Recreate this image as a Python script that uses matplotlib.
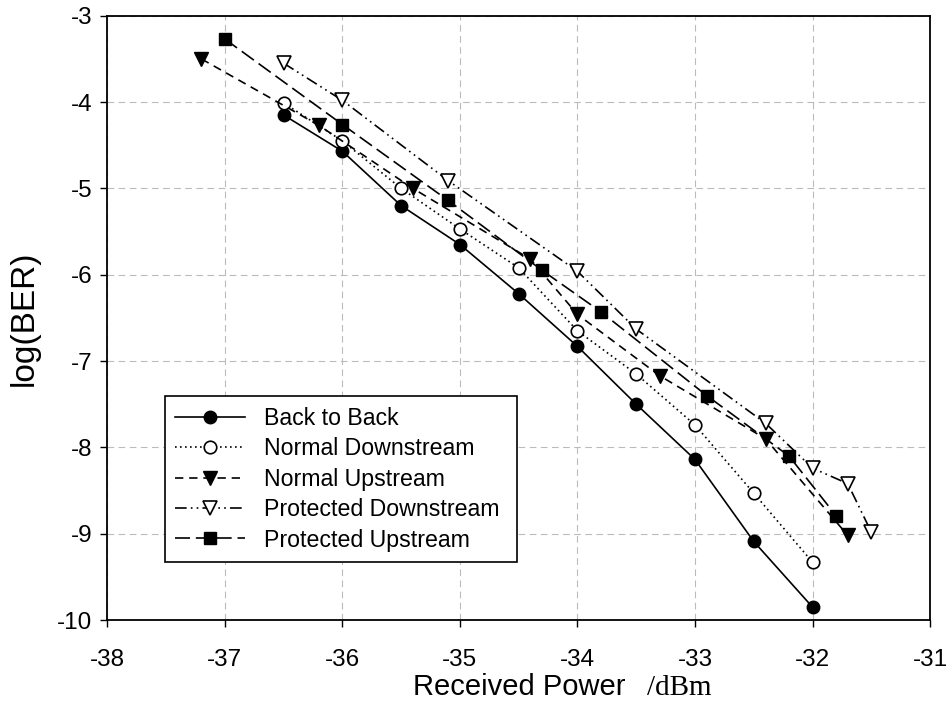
import matplotlib
matplotlib.use("Agg")
import matplotlib.pyplot as plt

plt.rcParams['font.family'] = ['Liberation Sans', 'DejaVu Sans']

# Data
b2b_x = [-36.5, -36.0, -35.5, -35.0, -34.5, -34.0, -33.5, -33.0, -32.5, -32.0]
b2b_y = [-4.15, -4.57, -5.20, -5.65, -6.22, -6.83, -7.50, -8.14, -9.09, -9.85]

nd_x = [-36.5, -36.0, -35.5, -35.0, -34.5, -34.0, -33.5, -33.0, -32.5, -32.0]
nd_y = [-4.01, -4.45, -5.00, -5.47, -5.92, -6.65, -7.15, -7.74, -8.53, -9.33]

nu_x = [-37.2, -36.2, -35.4, -34.4, -34.0, -33.3, -32.4, -31.7]
nu_y = [-3.50, -4.27, -5.00, -5.82, -6.46, -7.17, -7.90, -9.02]

pd_x = [-36.5, -36.0, -35.1, -34.0, -33.5, -32.4, -32.0, -31.7, -31.5]
pd_y = [-3.55, -3.98, -4.91, -5.96, -6.63, -7.72, -8.24, -8.42, -8.98]

pu_x = [-37.0, -36.0, -35.1, -34.3, -33.8, -32.9, -32.2, -31.8]
pu_y = [-3.27, -4.26, -5.14, -5.95, -6.43, -7.40, -8.10, -8.79]

labels = ["Back to Back", "Normal Downstream", "Normal Upstream",
          "Protected Downstream", "Protected Upstream"]
x_ticks = [-38, -37, -36, -35, -34, -33, -32, -31]
y_ticks = [-10, -9, -8, -7, -6, -5, -4, -3]

fig = plt.figure(figsize=(9.5, 7.16), dpi=100)
ax = fig.add_axes([0.113, 0.134, 0.866, 0.844])

ms = 9
ax.plot(b2b_x, b2b_y, color='black', lw=1.2, ls='-', marker='o', ms=ms,
        mfc='black', mec='black', label=labels[0], zorder=3)
ax.plot(nd_x, nd_y, color='black', lw=1.2, ls=(0, (1, 2)), marker='o', ms=ms,
        mfc='white', mec='black', mew=1.2, label=labels[1], zorder=3)
ax.plot(nu_x, nu_y, color='black', lw=1.2, ls=(0, (5, 3.5)), marker='v', ms=ms + 1,
        mfc='black', mec='black', label=labels[2], zorder=3)
ax.plot(pd_x, pd_y, color='black', lw=1.2, ls=(0, (7, 2.5, 1, 2.5, 1, 2.5)), marker='v',
        ms=ms + 1, mfc='white', mec='black', mew=1.2, label=labels[3], zorder=3)
ax.plot(pu_x, pu_y, color='black', lw=1.2, ls=(0, (9, 3.5)), marker='s', ms=ms - 0.5,
        mfc='black', mec='black', label=labels[4], zorder=3)

ax.set_xlim(-38, -31)
ax.set_ylim(-10, -3)
ax.set_xticks(x_ticks)
ax.set_yticks(y_ticks)
ax.set_xticklabels([str(t) for t in x_ticks])
ax.set_yticklabels([str(t) for t in y_ticks])
ax.tick_params(axis='both', direction='out', length=5, width=1.0, labelsize=17.5,
               colors='black')
ax.tick_params(axis='x', pad=16)
ax.tick_params(axis='y', pad=6)
ax.grid(True, color='#bbbbbb', ls=(0, (6, 4)), lw=0.8)
for s in ax.spines.values():
    s.set_linewidth(1.3)

ax.set_ylabel("log(BER)", fontsize=24, labelpad=12)

# x label: sans part plus serif unit
fig.text(0.658, 0.029, "Received Power", fontsize=21, ha='right', va='baseline')
fig.text(0.681, 0.029, "/dBm", fontsize=21, ha='left', va='baseline',
         family=['Liberation Serif', 'DejaVu Serif'])

leg = ax.legend(loc='lower left', bbox_to_anchor=(0.070, 0.096, 0.428, 0.266),
                mode='expand', fontsize=16.7, frameon=True, fancybox=False,
                edgecolor='black', framealpha=1, borderaxespad=0,
                handlelength=3.0, handletextpad=0.8, labelspacing=0.32,
                borderpad=0.45)
leg.get_frame().set_linewidth(1.2)

fig.savefig("out.png", dpi=100, facecolor='white')
